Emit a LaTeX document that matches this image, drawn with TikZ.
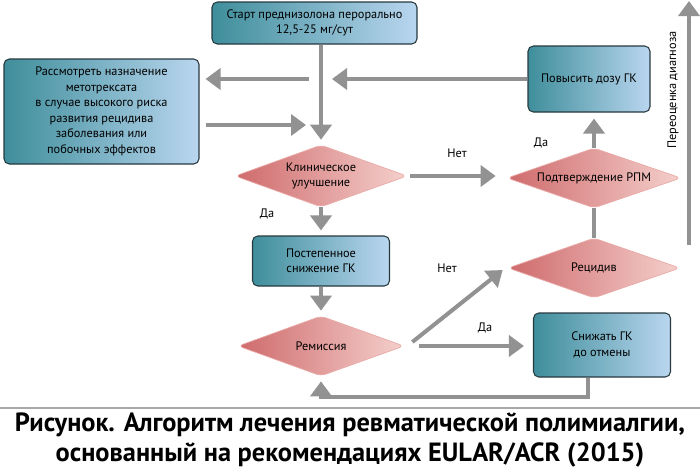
\documentclass[tikz,border=0pt]{standalone}
\usepackage{fontspec}
\setmainfont{PT Sans}
\usetikzlibrary{shapes.geometric, arrows.meta, positioning, calc}

\definecolor{boxleft}{HTML}{3F8E9B}
\definecolor{boxright}{HTML}{B9D6EF}
\definecolor{boxline}{HTML}{27393F}
\definecolor{decleft}{HTML}{CF6A6C}
\definecolor{decright}{HTML}{F4D0CC}
\definecolor{decline}{HTML}{E9AAA7}
\definecolor{arrgray}{HTML}{929292}
\definecolor{rulegray}{HTML}{A8A8A8}

\newcommand\diagfont{\fontsize{7}{8.8}\selectfont}
\newcommand\captfont{\fontsize{15}{17.2}\selectfont\bfseries}

\begin{document}
\begin{tikzpicture}[node distance=1.7cm,
    box/.style={draw=boxline, line width=0.6pt, rounded corners=3pt, left color=boxleft, right color=boxright, align=center, font=\diagfont},
    decision/.style={diamond, shape aspect=2.8, draw=decline, line width=0.4pt, rounded corners=3pt, left color=decleft, right color=decright, align=center, inner sep=0pt, font=\diagfont},
    arr/.style={draw=arrgray, line width=2.3pt, -{Triangle[length=0.3cm, width=0.42cm]}},
    arrline/.style={draw=arrgray, line width=2.3pt},
    lbl/.style={font=\diagfont}]
    \useasboundingbox (0,0) rectangle (14,-9.44);

    % Nodes
    \node[box, minimum width=4.1cm, minimum height=0.84cm] (start) at (6.29,-0.46) {Старт преднизолона перорально\\12,5-25 мг/сут};
    \node[box, minimum width=3.9cm, minimum height=2.1cm] (mtx) at (2.03,-2.23) {Рассмотреть назначение\\метотрексата\\в случае высокого риска\\развития рецидива\\заболевания или\\побочных эффектов};
    \node[decision, minimum width=3.44cm, minimum height=1.24cm] (clin) at (6.42,-3.52) {Клиническое\\улучшение};
    \node[box, below of=clin, minimum width=2.74cm, minimum height=1cm] (post) {Постепенное\\снижение ГК};
    \node[decision, below of=post, minimum width=3.32cm, minimum height=1.2cm] (rem) {Ремиссия};

    % Right side
    \node[decision, minimum width=3.48cm, minimum height=1.2cm] (pod) at (11.88,-3.56) {Подтверждение РПМ};
    \node[box, minimum width=2.44cm, minimum height=1.32cm] (pov) at (11.78,-1.58) {Повысить дозу ГК};
    \node[decision, minimum width=3.44cm, minimum height=1.2cm] (rec) at (11.88,-5.36) {Рецидив};
    \node[box, minimum width=2.74cm, minimum height=1.28cm] (snizh) at (12.04,-6.9) {Снижать ГК\\до отмены};

    % Labels
    \node[lbl] (da1) at (10.82,-2.86) {Да};
    \node[lbl] (da2) at (5.34,-4.28) {Да};
    \node[lbl] (net2) at (8.94,-5.36) {Нет};
    \node[lbl] (da3) at (9.7,-6.56) {Да};
    \node[lbl, rotate=90] (reval) at (13.46,-1.8) {Переоценка диагноза};

    % Connecting arrows
    \draw[arr, shorten >=2.8pt] (start.south -| clin.north) -- (clin.north);
    \draw[arr, shorten >=0.22cm] (pov.west) -- (pov.west -| clin.north);
    \draw[arr, shorten >=0.12cm] ($(pov.west -| clin.north)+(-0.24,0)$) -- (pov.west -| mtx.east);
    \draw[arr] ($(mtx.east)+(0.12,-0.27)$) -- ($(mtx.east -| clin.north)+(-0.3,-0.27)$);
    \draw[arr, shorten <=0.06cm, shorten >=0.22cm] (clin.east) -- node[lbl, above=0.2cm] (net1) {Нет} (clin.east -| pod.west);
    \draw[arr, shorten >=0.12cm] (pod.north) -- (pod.north |- pov.south);
    \draw[arrline] (rec.north) -- (pod.south);
    \draw[arr, shorten >=0.1cm] (clin.south) -- (post.north);
    \draw[arr, shorten >=0.1cm] (post.south) -- (rem.north);
    \draw[arr] ($(rem.east)+(0.16,0.08)$) -- ($(rec.west)+(-0.1,-0.04)$);
    \draw[arr, shorten >=0.18cm] ($(rem.east)+(0.3,0)$) -- (rem.east -| snizh.west);

    % Return line
    \coordinate (bottomrun) at (0,-7.94);
    \coordinate (snizhout) at ($(snizh.south)+(-0.28,0)$);
    \draw[arr, shorten >=0.1cm] (snizhout) -- (snizhout |- bottomrun) -| (rem.south);

    % Reassessment arrow
    \coordinate (revbot) at (13.78,-4.9);
    \coordinate (revtop) at (13.78,-0.02);
    \draw[arr] (revbot) -- (revtop);

    % Caption
    \draw[rulegray, line width=1.2pt] (0,-8.16) -- (14,-8.16);
    \node[font=\captfont, align=center] (caption) at (7,-8.8) {Рисунок. Алгоритм лечения ревматической полимиалгии,\\основанный на рекомендациях EULAR/ACR (2015)};
\end{tikzpicture}
\end{document}
